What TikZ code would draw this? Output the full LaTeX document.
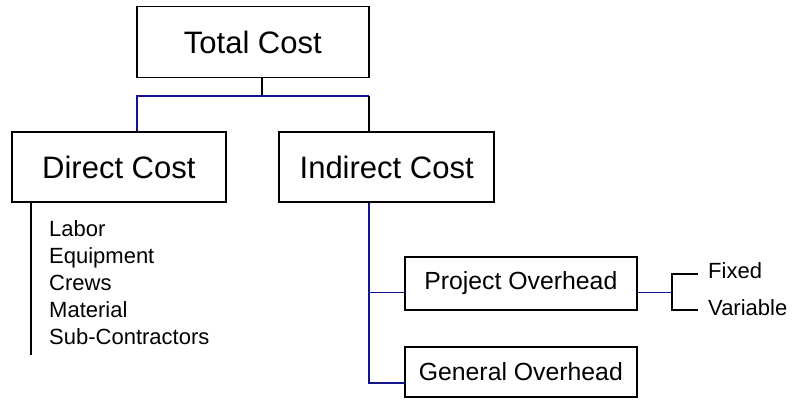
\documentclass[tikz,border=0pt]{standalone}
\usepackage{fontspec}
\setmainfont{Liberation Sans}
\definecolor{navyline}{RGB}{20,20,140}
\begin{document}
\begin{tikzpicture}[x=1pt,y=-1pt,
  box/.style={draw=black, line width=1.8pt, inner sep=0pt, fill=white},
  bigbox/.style={box, font=\fontsize{31}{36}\selectfont},
  midbox/.style={box, font=\fontsize{24.8}{29}\selectfont},
  item/.style={anchor=base west, inner sep=0pt, font=\fontsize{22}{26}\selectfont},
  link/.style={line width=1.8pt, black},
  blink/.style={line width=1.8pt, navyline}]
\useasboundingbox (0,0) rectangle (796,402);

% boxes
\node[bigbox, minimum width=232.3pt, minimum height=71pt] (total) at (252.85,42) {Total Cost};
\node[bigbox, minimum width=214.3pt, minimum height=70.6pt] (direct) at (118.85,167) {Direct Cost};
\node[bigbox, minimum width=214.7pt, minimum height=70.6pt] (indirect) at (386.65,167) {Indirect Cost};
\node[midbox, minimum width=231.7pt, minimum height=53.3pt] (project) at (520.85,283.35) {Project Overhead};
\node[midbox, minimum width=231.7pt, minimum height=50pt] (general) at (520.85,371.7) {General Overhead};

% direct cost items
\node[item] (labor) at (49,236) {Labor};
\node[item] (equip) at (49,263.3) {Equipment};
\node[item] (crews) at (49,290) {Crews};
\node[item] (mat) at (49,317.3) {Material};
\node[item] (sub) at (49,344) {Sub-Contractors};

% project overhead items
\node[item] (fixed) at (708,278) {Fixed};
\node[item] (variable) at (708,315) {Variable};

% junction points
\coordinate (busL) at (136.7,95.7);
\coordinate (busM) at (262.3,95.7);
\coordinate (busR) at (369,95.7);
\coordinate (spineP) at (369,292.5);
\coordinate (spineG) at (369,382.7);
\coordinate (pIn) at (405,292.5);
\coordinate (gIn) at (405,382.7);
\coordinate (brk) at (671.7,292.5);
\coordinate (brkT) at (671.7,274);
\coordinate (brkB) at (671.7,310);
\coordinate (fixEnd) at (698.3,274);
\coordinate (varEnd) at (698.3,310);
\coordinate (listEnd) at (30.7,355);

% top level
\draw[link] (busM |- total.south) -- (busM);
\draw[blink] (busL |- direct.north) -- (busL) -- (busR);
\draw[link] (busR) -- (busR |- indirect.north);

% direct cost list
\draw[link] (listEnd |- direct.south) -- (listEnd);

% indirect cost branches
\draw[blink] (busR |- indirect.south) -- (spineG) -- (gIn);
\draw[blink] (spineP) -- (pIn);

% project overhead bracket
\draw[blink] (project.east |- brk) -- (brk);
\draw[link] (fixEnd) -- (brkT) -- (brkB) -- (varEnd);
\end{tikzpicture}
\end{document}
